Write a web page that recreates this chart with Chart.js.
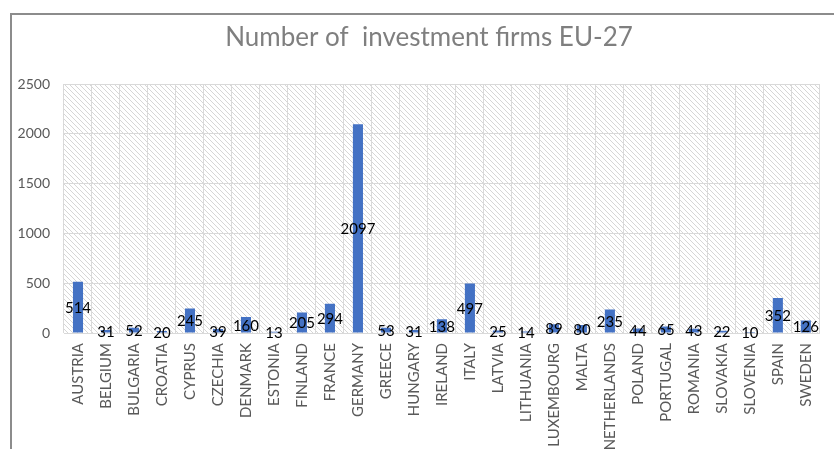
<!DOCTYPE html>
<html>
<head>
<meta charset="utf-8">
<script src="https://cdn.jsdelivr.net/npm/chart.js@4.4.1/dist/chart.umd.min.js"></script>
<style>
  html, body { margin: 0; padding: 0; background: #fff; }
  #wrap { position: relative; width: 834px; height: 449px; overflow: hidden; }
  #frame { position: absolute; left: 10px; top: 13px; width: 900px; height: 500px;
           border-left: 2px solid #8c8c8c; border-top: 2px solid #8c8c8c; }
  #myChart { position: absolute; left: 0; top: 0; }
</style>
</head>
<body>
<div id="wrap">
  <div id="frame"></div>
  <canvas id="myChart" width="834" height="449"></canvas>
</div>
<script>
// chart data
var countries = ['AUSTRIA', 'BELGIUM', 'BULGARIA', 'CROATIA', 'CYPRUS', 'CZECHIA', 'DENMARK', 'ESTONIA',
  'FINLAND', 'FRANCE', 'GERMANY', 'GREECE', 'HUNGARY', 'IRELAND', 'ITALY', 'LATVIA', 'LITHUANIA',
  'LUXEMBOURG', 'MALTA', 'NETHERLANDS', 'POLAND', 'PORTUGAL', 'ROMANIA', 'SLOVAKIA', 'SLOVENIA',
  'SPAIN', 'SWEDEN'];
var firms = [514, 31, 52, 20, 245, 39, 160, 13, 205, 294, 2097, 53, 31, 138, 497, 25, 14,
  89, 80, 235, 44, 65, 43, 22, 10, 352, 126];
var yTicks = [0, 500, 1000, 1500, 2000, 2500];
var chartTitle = 'Number of  investment firms EU-27';

var FONT = 'Lato, "Liberation Sans", sans-serif';

// diagonal hatch for the plot area
function makeHatch() {
    var c = document.createElement('canvas');
    c.width = 5; c.height = 5;
    var g = c.getContext('2d');
    g.strokeStyle = '#d6d6d6';
    g.lineWidth = 1;
    g.beginPath();
    g.moveTo(-1, -1); g.lineTo(6, 6);
    g.moveTo(-1, 4); g.lineTo(1, 6);
    g.moveTo(4, -1); g.lineTo(6, 1);
    g.stroke();
    return c;
}

var hatchPlugin = {
    id: 'hatch',
    beforeDraw: function(chart) {
        var a = chart.chartArea, ctx = chart.ctx;
        ctx.save();
        ctx.fillStyle = ctx.createPattern(makeHatch(), 'repeat');
        ctx.fillRect(a.left, a.top, a.right - a.left, a.bottom - a.top);
        // title, centred over the plot like the original
        ctx.font = '26px ' + FONT;
        ctx.fillStyle = '#7f7f7f';
        ctx.textAlign = 'center';
        ctx.textBaseline = 'middle';
        ctx.fillText(chartTitle, 429, 38);
        ctx.restore();
    }
};

// value labels in the middle of each bar
var labelPlugin = {
    id: 'barLabels',
    afterDatasetsDraw: function(chart) {
        var ctx = chart.ctx;
        var meta = chart.getDatasetMeta(0);
        ctx.save();
        ctx.font = '15px ' + FONT;
        ctx.fillStyle = '#000';
        ctx.textAlign = 'center';
        ctx.textBaseline = 'middle';
        meta.data.forEach(function(bar, i) {
            ctx.fillText(String(firms[i]), bar.x, (bar.y + bar.base) / 2 + 1);
        });
        ctx.restore();
    }
};

var ctx = document.getElementById('myChart').getContext('2d');
var myChart = new Chart(ctx, {
    type: 'bar',
    data: {
        labels: countries,
        datasets: [{
            data: firms,
            backgroundColor: '#4472c4',
            borderWidth: 0,
            categoryPercentage: 1,
            barPercentage: 0.36
        }]
    },
    options: {
        responsive: false,
        animation: false,
        layout: { padding: { left: 0, right: 8, top: 84, bottom: 0 } },
        plugins: {
            legend: { display: false },
            tooltip: { enabled: false },
            title: { display: false }
        },
        scales: {
            x: {
                grid: { color: '#d9d9d9', drawTicks: false, offset: true },
                border: { color: '#d9d9d9' },
                ticks: {
                    color: '#595959',
                    font: { family: FONT, size: 15 },
                    minRotation: 90,
                    maxRotation: 90,
                    autoSkip: false,
                    padding: 10
                },
                afterFit: function(s) { s.height = 116; }
            },
            y: {
                min: 0,
                max: 2500,
                afterBuildTicks: function(s) { s.ticks = yTicks.map(function(v) { return { value: v }; }); },
                grid: { color: '#d9d9d9', drawTicks: false },
                border: { display: false },
                ticks: {
                    color: '#595959',
                    font: { family: FONT, size: 14 },
                    padding: 14,
                    callback: function(v) { return String(v); }
                },
                afterFit: function(s) { s.width = 64; }
            }
        }
    },
    plugins: [hatchPlugin, labelPlugin]
});
</script>
</body>
</html>
